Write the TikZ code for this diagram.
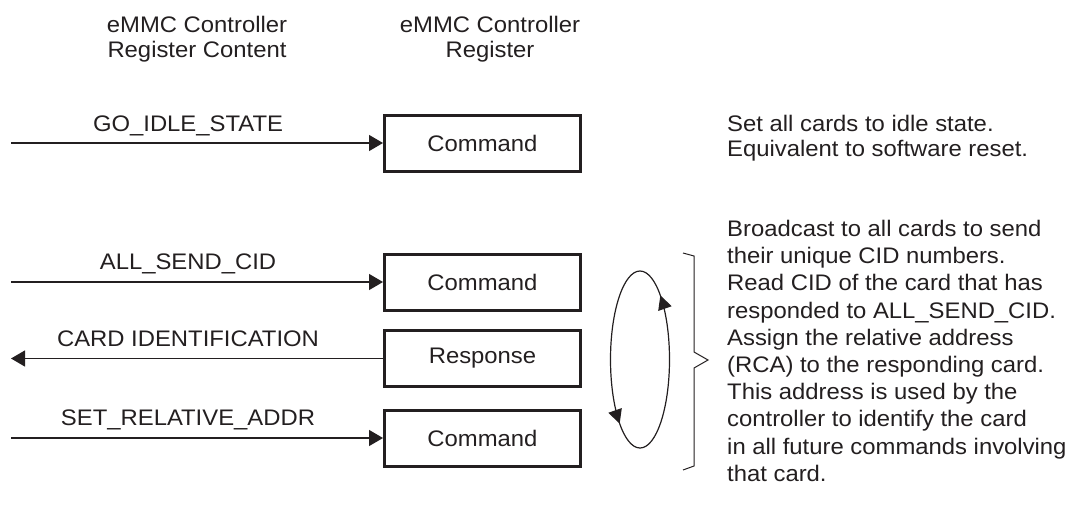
\documentclass[tikz,border=0pt]{standalone}
\usepackage{fontspec}
\setmainfont{Liberation Sans}[FakeStretch=1.06]
\usetikzlibrary{arrows.meta,decorations.markings}
\definecolor{ink}{HTML}{231F20}
\begin{document}
\begin{tikzpicture}[x=1pt,y=-1pt,
  txt/.style={font=\fontsize{22.5}{25}\selectfont, inner sep=0pt, text=ink},
  reg/.style={draw=ink, line width=3pt, minimum width=196pt, minimum height=56pt, inner sep=0pt, txt},
  sig/.style={draw=ink, line width=1.3pt, -{Triangle[length=14pt,width=16pt]}},
  lbl/.style={txt, anchor=base},
  desc/.style={txt, anchor=north west, align=left},
  loopline/.style={draw=ink, line width=1.2pt},
]
\useasboundingbox (0,0) rectangle (1073,504);

% headers
\node[txt, anchor=north, align=center] (h1) at (197,16) {eMMC Controller\\Register Content};
\node[txt, anchor=north, align=center] (h2) at (490,16) {eMMC Controller\\Register};

% registers
\node[reg] (c1) at (482.5,143) {Command};
\node[reg] (c2) at (482.5,282) {Command};
\node[reg] (r1) at (482.5,358.5) {Response};
\node[reg] (c3) at (482.5,438) {Command};

% free ends
\coordinate (s1) at (11,143);
\coordinate (s2) at (11,282);
\coordinate (s3) at (11,358.5);
\coordinate (s4) at (11,438);

\draw[sig] (s1) -- (c1.west);
\draw[sig] (s2) -- (c2.west);
\draw[sig] (r1.west) -- (s3);
\draw[sig] (s4) -- (c3.west);

% signal labels
\node[lbl] (l1) at (188,131) {GO\_IDLE\_STATE};
\node[lbl] (l2) at (188,269) {ALL\_SEND\_CID};
\node[lbl] (l3) at (188,346) {CARD IDENTIFICATION};
\node[lbl] (l4) at (188,425) {SET\_RELATIVE\_ADDR};

% loop
\draw[loopline, postaction={decorate}, decoration={markings,
   mark=at position 0.335 with {\arrowreversed{Triangle[length=14pt,width=14pt]}},
   mark=at position 0.835 with {\arrowreversed{Triangle[length=14pt,width=14pt]}}}]
   (640,359.5) ellipse [x radius=29.5, y radius=88.5];

% brace
\draw[loopline, line width=1pt] (683,253) -- (694,256) -- (694,352) -- (708,360) -- (694,368) -- (694,466) -- (683,470);

% descriptions
\node[desc, font=\fontsize{22.5}{25}\selectfont] (d1) at (727,115) {Set all cards to idle state.\\Equivalent to software reset.};
\node[desc, font=\fontsize{22.5}{27.2}\selectfont] (d2) at (727,220) {Broadcast to all cards to send\\their unique CID numbers.\\Read CID of the card that has\\responded to ALL\_SEND\_CID.\\Assign the relative address\\(RCA) to the responding card.\\This address is used by the\\controller to identify the card\\in all future commands involving\\that card.};
\end{tikzpicture}
\end{document}
